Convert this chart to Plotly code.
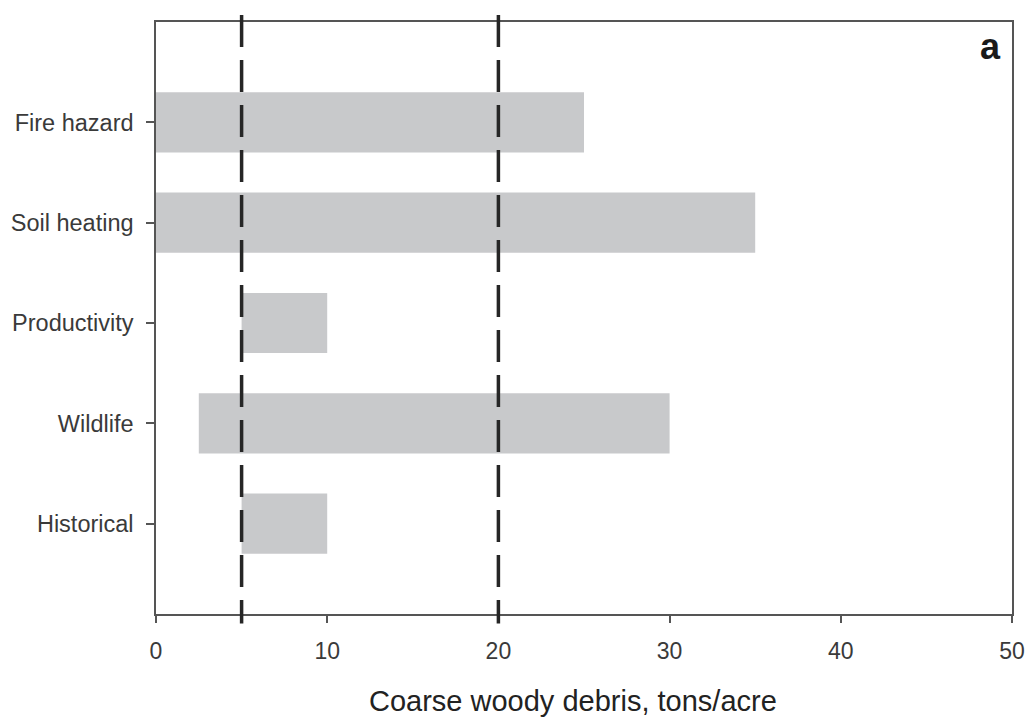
import plotly.graph_objects as go

# Coarse woody debris ranges (tons/acre) by management objective
categories = ["Historical", "Wildlife", "Productivity", "Soil heating", "Fire hazard"]
range_low = [5, 2.5, 5, 0, 0]
range_high = [10, 30, 10, 35, 25]
reference_levels = [5, 20]
x_ticks = [0, 10, 20, 30, 40, 50]

positions = list(range(len(categories)))
widths = [hi - lo for lo, hi in zip(range_low, range_high)]

FONT = "Liberation Sans, Arial, sans-serif"

fig = go.Figure()
fig.add_trace(go.Bar(
    y=positions,
    x=widths,
    base=range_low,
    orientation="h",
    width=0.6,
    marker=dict(color="#c8c9cb", line=dict(width=0)),
    showlegend=False,
))

# dashed reference levels, drawn from the top edge downward
for lvl in reference_levels:
    fig.add_shape(
        type="line", xref="x", yref="paper",
        x0=lvl, x1=lvl, y0=1.012, y1=-0.016,
        line=dict(color="#262626", width=3.5, dash="32px,13px"),
        layer="above",
    )

fig.add_annotation(
    text="<b>a</b>", xref="paper", yref="paper", x=0.9895, y=0.958,
    xanchor="right", yanchor="middle", showarrow=False,
    font=dict(family=FONT, size=36, color="#1a1a1a"),
)
fig.add_annotation(
    text="Coarse woody debris, tons/acre", xref="paper", yref="paper",
    x=0.487, y=-0.147, xanchor="center", yanchor="middle", showarrow=False,
    font=dict(family=FONT, size=29, color="#222222"),
)

fig.update_layout(
    width=1031, height=717,
    margin=dict(l=156, r=19, t=22, b=103),
    paper_bgcolor="white", plot_bgcolor="white",
    font=dict(family=FONT, size=23, color="#3a3a3a"),
)
fig.update_xaxes(
    range=[0, 50], tickvals=x_ticks, ticktext=[str(t) for t in x_ticks],
    showgrid=False, zeroline=False, automargin=False,
    showline=True, linecolor="#555555", linewidth=1.5, mirror=True,
    ticks="outside", ticklen=7, tickcolor="#555555", tickwidth=1.5,
    ticklabelstandoff=9,
    tickfont=dict(family=FONT, size=23, color="#3a3a3a"),
)
fig.update_yaxes(
    range=[-0.9, 5.0], tickvals=positions, ticktext=categories,
    showgrid=False, zeroline=False, automargin=False,
    showline=True, linecolor="#555555", linewidth=1.5, mirror=True,
    ticks="outside", ticklen=8, tickcolor="#555555", tickwidth=1.5,
    ticklabelstandoff=8,
    tickfont=dict(family=FONT, size=23.5, color="#3a3a3a"),
)

fig.write_html("out.html")
